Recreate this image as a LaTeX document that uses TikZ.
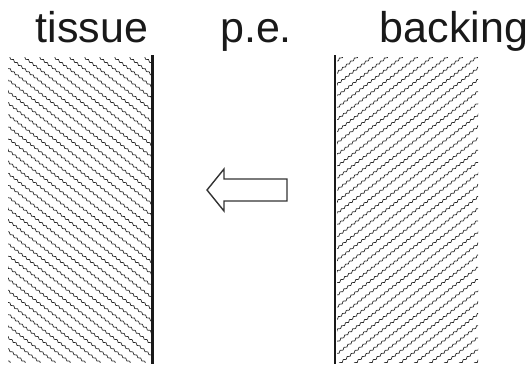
\documentclass[tikz,border=0pt]{standalone}
\usepackage{fontspec}
\setmainfont{Liberation Sans}
\usetikzlibrary{decorations.pathmorphing}
\begin{document}
\begin{tikzpicture}[x=1pt,y=-1pt,
  lbl/.style={anchor=base,inner sep=0pt,font=\fontsize{43}{43}\selectfont,text=black!90},
  hatch/.style={line width=0.7pt,black!85,decorate,decoration={snake,amplitude=0.8pt,segment length=5pt}},
  wall/.style={line width=2.6pt,black!90},
  bigarrow/.style={line width=1.4pt,black!80,line join=miter,fill=white}]
\useasboundingbox (0,0) rectangle (529,368);
% labels
\node[lbl] (tissue) at (92,42) {tissue};
\node[lbl] (pe) at (256,42) {p.e.};
\node[lbl] (backing) at (454,42) {backing};
% tissue hatch
\begin{scope}
  \clip (8,57) rectangle (151,362);
  \foreach \i in {-420,-405,...,160} {
    \draw[hatch] (\i,50) -- ++(420,328);
  }
\end{scope}
% backing hatch
\begin{scope}
  \clip (337,57) rectangle (478,362);
  \foreach \i in {336,351,...,920} {
    \draw[hatch] (\i,50) -- ++(-420,328);
  }
\end{scope}
% walls
\coordinate (lt) at (152.5,55);
\coordinate (lb) at (152.5,364);
\coordinate (rt) at (335,55);
\coordinate (rb) at (335,364);
\draw[wall] (lt) -- (lb);
\draw[wall] (rt) -- (rb);
% arrow
\draw[bigarrow] (287,179) -- (224,179) -- (224,169) -- (207,190) -- (224,211) -- (224,201) -- (287,201) -- cycle;
\end{tikzpicture}
\end{document}
